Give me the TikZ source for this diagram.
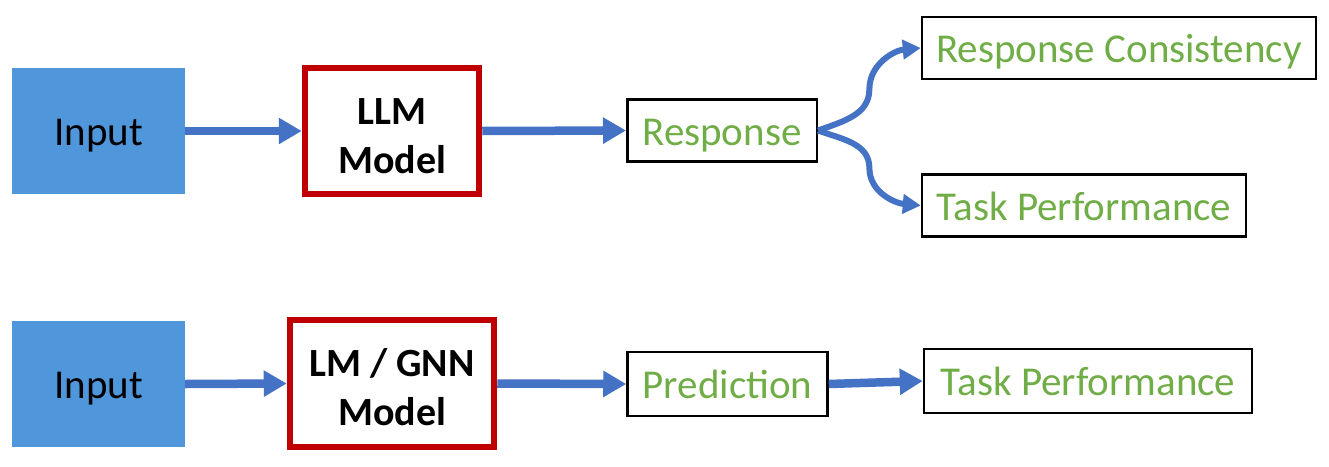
\documentclass[tikz,border=0pt]{standalone}
\usepackage{fontspec}
\setmainfont{Carlito}
\usetikzlibrary{arrows.meta,calc}
\definecolor{inblue}{RGB}{80,150,218}
\definecolor{arblue}{RGB}{68,114,196}
\definecolor{mred}{RGB}{192,0,0}
\definecolor{tgreen}{RGB}{112,173,71}
\tikzset{
  oneline/.style={text height=37.5pt,text depth=8.2pt},
  inputbox/.style={fill=inblue,draw=none,inner sep=0pt,minimum width=173pt,minimum height=126pt,font=\fontsize{41}{49}\selectfont,oneline},
  modelbox/.style={draw=mred,line width=6.5pt,fill=white,inner sep=0pt,font=\fontsize{40}{49}\selectfont\bfseries,text height=60pt,text depth=32pt},
  outbox/.style={draw=black,line width=2.5pt,inner sep=0pt,text=tgreen,font=\fontsize{41}{49}\selectfont,minimum height=62pt,oneline},
  flowarrow/.style={draw=arblue,line width=8.5pt,-{Triangle[length=23pt,width=25pt]}},
  curvearrow/.style={draw=arblue,line width=6pt,-{Triangle[length=18pt,width=19pt]}}
}
\begin{document}
\begin{tikzpicture}[x=1pt,y=-1pt]
\useasboundingbox (0,0) rectangle (1329,466);
% top row
\node[inputbox] (in1) at (98.5,131) {Input};
\node[modelbox,minimum width=174pt,minimum height=126pt] (llm) at (392,131) {\begin{tabular}{@{}c@{}}LLM\\Model\end{tabular}};
\node[outbox,minimum width=189.5pt] (resp) at (722,130.5) {Response};
\node[outbox,minimum width=394pt] (rc) at (1119,48) {Response Consistency};
\node[outbox,minimum width=324pt] (tp1) at (1084,205.5) {Task Performance};
\draw[flowarrow] (in1.east) -- (llm.west);
\draw[flowarrow] (llm.east) -- (resp.west);
\coordinate (m1) at ($(resp.east)!0.5!(rc.west)$);
\coordinate (m2) at ($(resp.east)!0.5!(tp1.west)$);
\draw[curvearrow] (resp.east) to[out=20,in=-90] (m1) to[out=90,in=185] (rc.west);
\draw[curvearrow] (resp.east) to[out=-20,in=90] (m2) to[out=-90,in=175] (tp1.west);
% bottom row
\node[inputbox] (in2) at (98.5,384) {Input};
\node[modelbox,minimum width=204pt,minimum height=127pt] (gnn) at (392,383.5) {\begin{tabular}{@{}c@{}}LM / GNN\\Model\end{tabular}};
\node[outbox,minimum width=200pt,minimum height=64pt] (pred) at (727.5,384) {Prediction};
\node[outbox,minimum width=328pt,minimum height=64pt] (tp2) at (1088,381) {Task Performance};
\draw[flowarrow] (in2.east) -- (gnn.west);
\draw[flowarrow] (gnn.east) -- (pred.west);
\draw[flowarrow] (pred.east) -- (tp2.west);
\end{tikzpicture}
\end{document}
